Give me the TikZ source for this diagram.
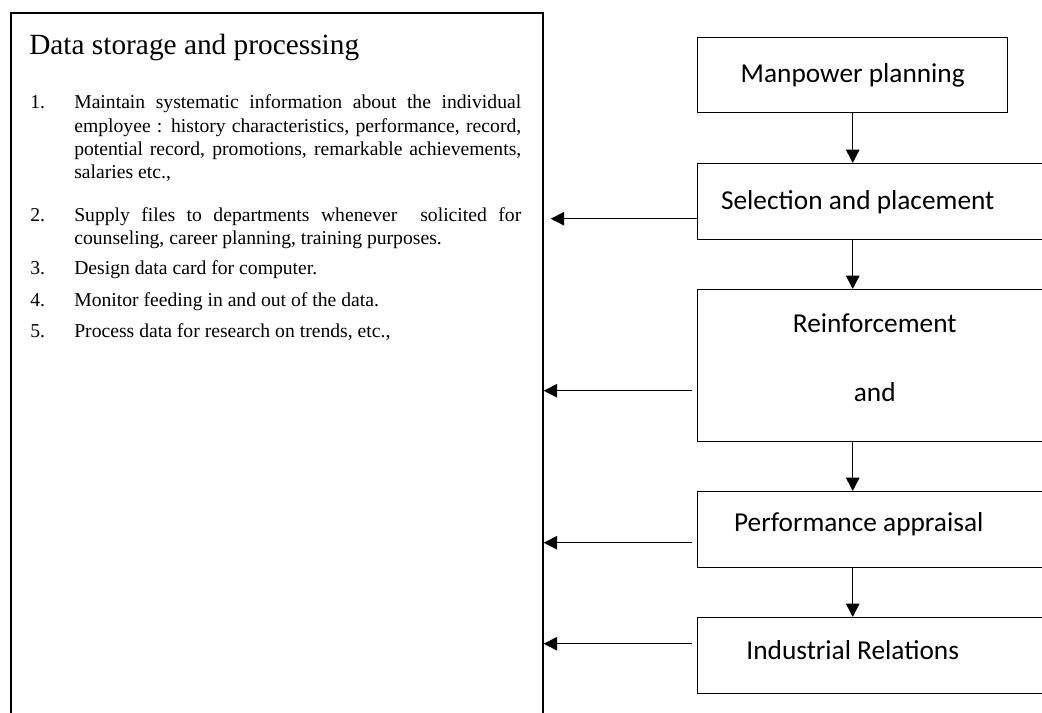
\documentclass[tikz,border=0pt]{standalone}
\usepackage{fontspec}
\setmainfont{Liberation Serif}
\newfontfamily\calfont{Carlito}
\usetikzlibrary{positioning}
\usetikzlibrary{calc}
\usetikzlibrary{arrows.meta}

\begin{document}
\begin{tikzpicture}[x=0.75pt, y=-0.75pt,
		>={Triangle[length=10pt, width=10pt]},
		storebox/.style={draw, line width=1.3pt, anchor=north west, inner sep=0pt,
			minimum width=532*0.75pt, minimum height=760*0.75pt},
		flowbox/.style={draw, line width=1.1pt, anchor=north west, inner sep=0pt,
			minimum width=420*0.75pt, minimum height=76*0.75pt},
		boxtext/.style={font=\calfont\fontsize{20.5}{24}\selectfont},
		itemnum/.style={anchor=base west, inner sep=0pt, font=\fontsize{14.75}{17.25}\selectfont},
		itemtext/.style={anchor=base west, inner sep=0pt, text width=447*0.75pt, align=justify,
			font=\fontsize{14.75}{17.4}\selectfont},
		flow/.style={->, line width=1.1pt}
		]
		
		\useasboundingbox (0,0) rectangle (1042,713);
		
		% data storage
		\node[storebox] (store) at (10,12) {};
		\node[anchor=base west, inner sep=0pt, font=\fontsize{22}{26}\selectfont] (title) at (29,55) {Data storage and processing};
		
		\node[itemnum] (n1) at (30,109) {1.};
		\node[itemtext] (t1) at (74,109) {Maintain systematic information about the individual\linebreak employee : history characteristics, performance, record,\linebreak potential record, promotions, remarkable achievements,\linebreak salaries etc.,};
		\node[itemnum] (n2) at (30,221) {2.};
		\node[itemtext] (t2) at (74,221) {Supply files to departments whenever\ \ solicited for\linebreak counseling, career planning, training purposes.};
		\node[itemnum] (n3) at (30,274) {3.};
		\node[itemtext] (t3) at (74,274) {Design data card for computer.};
		\node[itemnum] (n4) at (30,306) {4.};
		\node[itemtext] (t4) at (74,306) {Monitor feeding in and out of the data.};
		\node[itemnum] (n5) at (30,337) {5.};
		\node[itemtext] (t5) at (74,337) {Process data for research on trends, etc.,};
		
		% flow boxes
		\node[flowbox, boxtext, minimum width=310*0.75pt, minimum height=75*0.75pt] (mp) at (697,37) {Manpower planning};
		\node[flowbox, label={[boxtext, name=selt, xshift=-37.5pt]center:Selection and placement}] (sel) at (697,163) {};
		\node[flowbox, minimum height=152*0.75pt,
			label={[boxtext, name=reinft, align=center, xshift=-24.75pt, yshift=6pt]center:Reinforcement\\[28pt]and}] (reinf) at (697,289) {};
		\node[flowbox, label={[boxtext, name=perft, xshift=-36.75pt, yshift=4.5pt]center:Performance appraisal}] (perf) at (697,491) {};
		\node[flowbox, label={[boxtext, name=indt, xshift=-41.25pt, yshift=4.5pt]center:Industrial Relations}] (ind) at (697,617) {};
		
		% down the chain
		\draw[flow] (mp.south) -- (mp.south |- sel.north);
		\draw[flow] (sel.south -| mp.south) -- (mp.south |- reinf.north);
		\draw[flow] (reinf.south -| mp.south) -- (mp.south |- perf.north);
		\draw[flow] (perf.south -| mp.south) -- (mp.south |- ind.north);
		
		% into the data store
		\coordinate (selout) at ($(sel.west)+(0,17)$);
		\coordinate (reinfout) at ($(reinf.west)+(-5,25)$);
		\coordinate (perfout) at ($(perf.west)+(-5,13)$);
		\coordinate (indout) at ($(ind.west)+(-5,-12)$);
		\draw[flow] (selout) -- ($(selout -| store.east)+(7,0)$);
		\draw[flow] (reinfout) -- (reinfout -| store.east);
		\draw[flow] (perfout) -- (perfout -| store.east);
		\draw[flow] (indout) -- (indout -| store.east);
	\end{tikzpicture}
\end{document}
